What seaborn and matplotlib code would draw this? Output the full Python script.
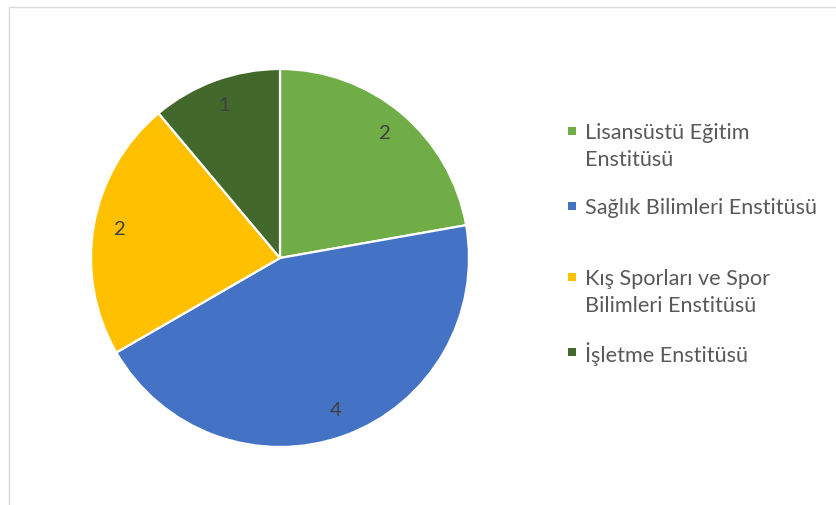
import matplotlib
matplotlib.use("Agg")
import matplotlib.pyplot as plt
import seaborn as sns
from matplotlib.patches import Rectangle

# Number of records per institute
institutes = [
    "Lisansüstü Eğitim\nEnstitüsü",
    "Sağlık Bilimleri Enstitüsü",
    "Kış Sporları ve Spor\nBilimleri Enstitüsü",
    "İşletme Enstitüsü",
]
counts = [2, 4, 2, 1]
colors = ["#70AD47", "#4472C4", "#FFC000", "#43682B"]

sns.set_theme(style="white")
plt.rcParams["font.family"] = ["Lato", "DejaVu Sans"]

W, H = 836, 505
fig = plt.figure(figsize=(W / 100, H / 100), dpi=100)
fig.patch.set_facecolor("white")

# chart area frame
fig.add_artist(Rectangle((8.5 / W, -0.1), 1.2, 1 - 6.5 / H + 0.1,
                         transform=fig.transFigure, fill=False,
                         edgecolor="#D9D9D9", linewidth=1.0))

cx, cy, r = 280, 258, 189
ax = fig.add_axes([(cx - r) / W, (H - cy - r) / H, 2 * r / W, 2 * r / H])
wedges, texts = ax.pie(
    counts,
    colors=colors,
    startangle=90,
    counterclock=False,
    labels=[str(c) for c in counts],
    labeldistance=0.86,
    wedgeprops=dict(edgecolor="white", linewidth=1.6),
    textprops=dict(fontsize=14.5, color="#404040", ha="center", va="center"),
)
ax.set_xlim(-1, 1)
ax.set_ylim(-1, 1)
ax.set_aspect("equal")
ax.axis("off")

# legend entries: colour square plus (possibly wrapped) label
legend_y = [131, 206, 277, 352]
line_step = 27
for name, col, y in zip(institutes, colors, legend_y):
    fig.add_artist(Rectangle((567.5 / W, (H - y - 4) / H), 8 / W, 8 / H,
                             transform=fig.transFigure, facecolor=col,
                             edgecolor="none"))
    for i, ln in enumerate(name.split("\n")):
        fig.text(585 / W, (H - (y + i * line_step)) / H, ln, fontsize=15.6,
                 color="#595959", ha="left", va="center_baseline")

fig.savefig("out.png", dpi=100, facecolor="white")
